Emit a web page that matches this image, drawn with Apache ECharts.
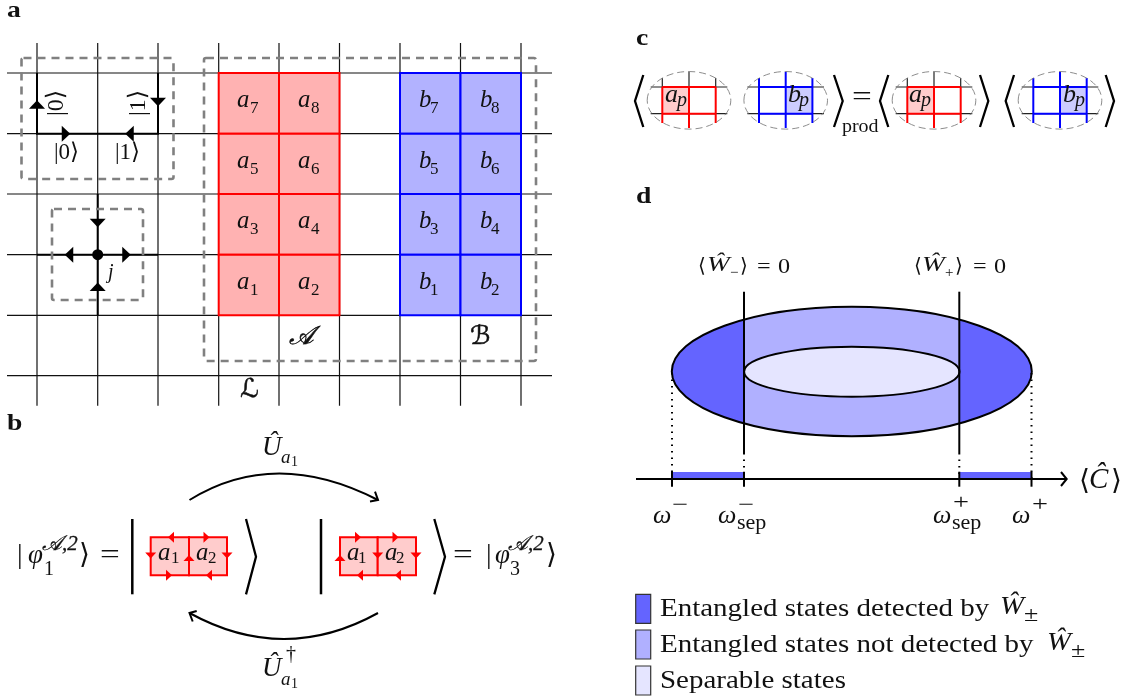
<!DOCTYPE html>
<html><head><meta charset="utf-8">
<style>html,body{margin:0;padding:0;background:#fff}#c{width:1127px;height:700px}</style>
<script src="https://cdn.jsdelivr.net/npm/echarts@6/dist/echarts.min.js"></script>
</head><body><div id="c"></div>
<script>
// ---- diagram geometry, in the reference's page units ----
const latticeX=[37,97.7,158,218.7,279,339.5,400,460.5,521];
const latticeY=[73,133.7,194,254.7,315.3,375.7];
const latticeXRange=[7,552], latticeYRange=[43,405.7];
const blockAColumns=[218.7,279,339.5], blockBColumns=[400,460.5,521];
const blockRows=[73,133.7,194,254.7,315.3];
const aLabels=[[7,8],[5,6],[3,4],[1,2]], bLabels=[[7,8],[5,6],[3,4],[1,2]];
const thickPaths=[[[37,73],[37,133.7],[158,133.7],[158,73]],[[37,254.7],[158,254.7]],[[97.7,194],[97.7,315.3]]];
const blackArrows=[[66,133.7,'r'],[129.5,133.7,'l'],[37,104.5,'u'],[158,102,'d'],[69,254.7,'l'],[126.5,254.7,'r'],[97.7,223,'d'],[97.7,286.7,'u']];
const starCentre=[[97.7,254.7]];
const dashedBoxes=[[204,58,536,361],[21.5,58,173.5,179],[52,209,143,300]];
const opCells=[[150.7,537.3,189,575.3],[189,537.3,227,575.3],[340,537.3,377.7,575.3],[377.7,537.3,416,575.3]];
const redArrows=[[171,537.3,'l'],[206.5,537.3,'r'],[169,575.3,'r'],[209,575.3,'l'],[150.7,555.5,'d'],[189,558,'u'],[227,555.5,'d'],
 [358,537.3,'r'],[395.5,537.3,'r'],[360,575.3,'l'],[398,575.3,'l'],[340,558,'u'],[377.7,555.5,'d'],[416,555.5,'d']];
const arcs=[[189.5,500,275,447,378,500],[378,613,284,665,189.5,613]];
const arcHeads=[[[375,491.7],[378,500],[370,501.5]],[[196.7,611],[189.5,613],[192.7,621.5]]];
const bigBars=[[[132.3,519],[132.3,594.3]],[[321,519],[321,594.3]]];
const rightAngles=[[246,256,556.7,37.7],[434.3,445,556.7,37.7],[834,842.7,101,26],[980,988.3,101,26],[1105.7,1114,101,26]];
const leftAngles=[[635,643.3,101,26],[880,888.3,101,26],[1005.7,1014,101,26]];
// panel c: lattice centres
const redLoupes=[689,934], blueLoupes=[785.7,1060];
const loupeY=100.3, loupeCell=26.7, loupeRows=[87,113.7], loupeReach=38.3, loupeRx=41.8, loupeRy=28.8;
const loupeTops=[78,71.7,78], loupeBottoms=[123,128,123];
// panel d
const outer={cx:851.8,cy:371.5,rx:180,ry:64.7}, inner={cx:851.8,cy:371.7,rx:107.7,ry:25};
const witnessX=[744,959.3], witnessY=[291.7,453];
const bounds=[672,744,959.3,1031.5];
const axisY=479, axisX=[636,1066.7], tickY=[471.7,486.7];
const dottedTops=[373,453,453,373];
const detectedBars=[[672,472,744,479],[959.3,472,1031.5,479]];
const axisHead=[[1061,472],[1066.7,479],[1061,486]];
const legendBoxes=[[635.7,594.3,650.7,623.3],[635.7,630,650.7,659],[635.7,666,650.7,695]];
// text, grouped by the look each group shares
const titles=[['a',7,11],['b',7,424],['c',636,39],['d',636,197]];
const scripts=[['𝒜',289,337],['ℬ',470,337],['ℒ',240,390]];
const kets=[['|0⟩',54,153],['|1⟩',115,153]];
const rotatedKets=[['|0⟩',56.5,103],['|1⟩',138.5,103]];
const indexJ=[['j',108,273]];
const opMain=[['Û',262,448],['Û',262,669],['φ',28,556],['φ',495,556]];
const opBars=[['|',17,556],['⟩',79,556],['|',486,556],['⟩',546,556]];
const opEquals=[['=',100,556],['=',453,556],['=',852,98]];
const opSupA=[['𝒜,2',42,544],['𝒜,2',508,544]];
const opIdx=[['1',44,570],['3',510,570]];
const uSubs=[['a',281,458],['a',281,680]];
const uSubNums=[['1',291,462],['1',291,684]];
const dagger=[['†',286,655]];
const smallCell=[['a',158,553],['a',196,553],['a',347,553],['a',385,553]];
const smallCellSub=[['1',171,559],['2',208,559],['1',358,559],['2',396,559]];
const loupeMain=[['a',665,95],['b',788,95],['a',909,95],['b',1063,95]];
const loupeSub=[['p',677,101],['p',799,101],['p',921,101],['p',1075,101]];
const prodLabel=[['prod',842,127]];
const witnessAngles=[['⟨',698,267],['⟩',740,267],['⟨',914,267],['⟩',955,267]];
const witnessRoman=[['=',757,267],['0',778,267],['=',973,267],['0',994,267]];
const witnessW=[['Ŵ',707,265],['Ŵ',922,265]];
const witnessSub=[['−',730,273],['+',945,273]];
const omegas=[['ω',653,516],['ω',718,516],['ω',933,516],['ω',1012,516]];
const omegaSup=[['−',672,505],['−',738,505],['+',953,503],['+',1032,505]];
const omegaSep=[['sep',737,523],['sep',952,523]];
const axisNameRoman=[['⟨',1079,482],['⟩',1111,482]];
const axisNameC=[['Ĉ',1089,480]];
const legendText=[['Entangled states detected by',660,609],['Entangled states not detected by',660,645],['Separable states',660,681]];
const legendW=[['Ŵ',1000,607],['Ŵ',1047,643]];
const legendPm=[['±',1024,616],['±',1071,652]];

// ---- helpers building library series ----
const series=[];
const serif='"Liberation Serif","DejaVu Serif","DejaVu Sans",serif';
function custom(rows,draw){
  series.push({type:'custom',coordinateSystem:'cartesian2d',clip:false,animation:false,silent:true,
    encode:{x:0,y:1},data:rows.map((r,i)=>[i,i]),
    renderItem:(p,api)=>draw(rows[p.dataIndex],api)});
}
const pts=(path,api)=>path.map(q=>api.coord(q));
function lines(paths,style){custom(paths,(path,api)=>({type:'polyline',shape:{points:pts(path,api)},style:Object.assign({fill:null,stroke:'#000',lineWidth:1.2},style)}));}
function boxes(rects,style){custom(rects,(r,api)=>{const a=api.coord([r[0],r[1]]),b=api.coord([r[2],r[3]]);
  return {type:'rect',shape:{x:a[0],y:a[1],width:b[0]-a[0],height:b[1]-a[1],r:style.r||0},style:Object.assign({},style,{r:undefined})};});}
function ovals(list,style){custom(list,(e,api)=>{const c=api.coord([e.cx,e.cy]),q=api.coord([e.cx+e.rx,e.cy+e.ry]);
  return {type:'ellipse',shape:{cx:c[0],cy:c[1],rx:q[0]-c[0],ry:q[1]-c[1]},style};});}
function tris(list,len,half,fill){custom(list,(t,api)=>{const c=api.coord([t[0],t[1]]);const d={r:[1,0],l:[-1,0],u:[0,-1],d:[0,1]}[t[2]];
  const tip=[c[0]+d[0]*len/2,c[1]+d[1]*len/2],bx=c[0]-d[0]*len/2,by=c[1]-d[1]*len/2;
  return {type:'polygon',shape:{points:[tip,[bx-d[1]*half,by-d[0]*half],[bx+d[1]*half,by+d[0]*half]]},style:{fill}};});}
function texts(list,size,opt){opt=opt||{};custom(list,(t,api)=>{const c=api.coord([t[1],t[2]]);
  const st={text:t[0],fontSize:size,fontFamily:opt.family||serif,fontStyle:opt.it?'italic':'normal',fontWeight:opt.bold?'bold':'normal',
    fill:'#111',align:opt.align||'left',verticalAlign:'middle',textAlign:opt.align||'left',textVerticalAlign:'middle'};
  if(opt.heavy){st.stroke='#111';st.lineWidth=opt.heavy;}
  return {type:'text',x:c[0],y:c[1],scaleX:opt.sx||1,rotation:opt.rot||0,style:st};});}
const angle=(r)=>[[r[0],r[2]-r[3]],[r[1],r[2]],[r[0],r[2]+r[3]]];
const angleL=(r)=>[[r[1],r[2]-r[3]],[r[0],r[2]],[r[1],r[2]+r[3]]];
const arcPoly=(e,cutX,sign)=>{const a=Math.acos((cutX-e.cx)/e.rx),out=[];
  const from=sign<0?a:-a, to=sign<0?2*Math.PI-a:a;
  for(let i=0;i<=60;i++){const t=from+(to-from)*i/60;out.push([e.cx+e.rx*Math.cos(t),e.cy+e.ry*Math.sin(t)]);}return out;};

// ---- panel a ----
lines(latticeX.map(x=>[[x,latticeYRange[0]],[x,latticeYRange[1]]]),{stroke:'#111',lineWidth:1.2});
lines(latticeY.map(y=>[[latticeXRange[0],y],[latticeXRange[1],y]]),{stroke:'#111',lineWidth:1.2});
lines(thickPaths,{lineWidth:2});
tris(blackArrows,8.5,8,'#000');
custom(starCentre,(c,api)=>{const p=api.coord(c);return {type:'circle',shape:{cx:p[0],cy:p[1],r:5.5},style:{fill:'#000'}};});
const cellsOf=(cols)=>{const o=[];for(let r=0;r<blockRows.length-1;r++)for(let c=0;c<cols.length-1;c++)o.push([cols[c],blockRows[r],cols[c+1],blockRows[r+1]]);return o;};
boxes(cellsOf(blockAColumns),{fill:'#ffb2b2',stroke:'#ff0000',lineWidth:2});
boxes(cellsOf(blockBColumns),{fill:'#b2b2ff',stroke:'#0000ff',lineWidth:2});
boxes(dashedBoxes,{fill:null,stroke:'#808080',lineWidth:2.6,lineDash:[8,6],r:2});
const cellMain=[],cellSub=[];
const cx0=[237,298],cx1=[419,480],cy=[100.5,161.5,221.5,282.5];
aLabels.forEach((row,r)=>row.forEach((n,c)=>{cellMain.push(['a',cx0[c],cy[r]]);cellSub.push([String(n),cx0[c]+13,cy[r]+8]);}));
bLabels.forEach((row,r)=>row.forEach((n,c)=>{cellMain.push(['b',cx1[c],cy[r]]);cellSub.push([String(n),cx1[c]+11,cy[r]+8]);}));
texts(cellMain,26,{it:1,sx:0.95});
texts(cellSub,17);
texts(titles,23,{bold:1,sx:1.2});
texts(scripts,26,{it:1,heavy:0.5});
texts(kets,23);
texts(rotatedKets,24,{rot:Math.PI/2,align:'center'});
texts(indexJ,20,{it:1});

// ---- panel b ----
custom(arcs,(a,api)=>{const s=api.coord([a[0],a[1]]),c=api.coord([a[2],a[3]]),e=api.coord([a[4],a[5]]);
  return {type:'bezierCurve',shape:{x1:s[0],y1:s[1],cpx1:c[0],cpy1:c[1],x2:e[0],y2:e[1]},style:{fill:null,stroke:'#000',lineWidth:2}};});
lines(arcHeads,{lineWidth:2});
lines(bigBars,{lineWidth:2.5});
lines(rightAngles.map(angle),{lineWidth:2.3});
lines(leftAngles.map(angleL),{lineWidth:2.3});
boxes(opCells,{fill:'#ffcccc',stroke:'#ff0000',lineWidth:2});
tris(redArrows,6,5.5,'#ff0000');
texts(opMain,27,{it:1});
texts(opBars,28);
texts(opEquals,27,{sx:1.3});
texts(opSupA,21,{it:1,heavy:0.3});
texts(opIdx,20);
texts(uSubs,19,{it:1});
texts(uSubNums,14);
texts(dagger,20);
texts(smallCell,26,{it:1,sx:0.95});
texts(smallCellSub,17);

// ---- panel c ----
const loupeAllX=[-1,0,1];
[...redLoupes,...blueLoupes].forEach(cx=>{
  const isRed=redLoupes.includes(cx);
  lines(loupeRows.map(y=>[[cx-loupeReach,y],[cx+loupeReach,y]]),{stroke:'#222',lineWidth:1.2});
  if(isRed) lines(loupeAllX.map((k,i)=>[[cx+k*loupeCell,loupeTops[i]],[cx+k*loupeCell,loupeRows[0]]]),{stroke:'#222',lineWidth:1.2});
  const col=isRed?'#ff0000':'#0000ff';
  boxes([isRed?[cx-loupeCell,loupeRows[0],cx,loupeRows[1]]:[cx,loupeRows[0],cx+loupeCell,loupeRows[1]]],{fill:isRed?'#ffcccc':'#ccccff',stroke:null});
  lines(loupeAllX.map((k,i)=>[[cx+k*loupeCell,isRed?loupeRows[0]:loupeTops[i]],[cx+k*loupeCell,loupeBottoms[i]]]),{stroke:col,lineWidth:2});
  lines(loupeRows.map(y=>[[cx-loupeCell,y],[cx+loupeCell,y]]),{stroke:col,lineWidth:2});
  ovals([{cx,cy:loupeY,rx:loupeRx,ry:loupeRy}],{fill:null,stroke:'#808080',lineWidth:0.9,lineDash:[7,4]});
});
texts(loupeMain,26,{it:1});
texts(loupeSub,20,{it:1});
texts(prodLabel,19,{sx:1.05});

// ---- panel d ----
ovals([outer],{fill:'#b0b0ff',stroke:null});
custom([arcPoly(outer,witnessX[0],-1),arcPoly(outer,witnessX[1],1)],(path,api)=>({type:'polygon',shape:{points:pts(path,api)},style:{fill:'#6464ff'}}));
ovals([outer],{fill:null,stroke:'#000',lineWidth:2});
ovals([inner],{fill:'#e5e5ff',stroke:'#000',lineWidth:2});
lines(witnessX.map(x=>[[x,witnessY[0]],[x,witnessY[1]]]),{lineWidth:2});
lines(bounds.map((x,i)=>[[x,dottedTops[i]],[x,axisY]]),{lineWidth:2,lineDash:[1.5,5]});
boxes(detectedBars,{fill:'#6464ff',stroke:null});
lines([[[axisX[0],axisY],[axisX[1],axisY]]],{lineWidth:2});
lines(bounds.map(x=>[[x,tickY[0]],[x,tickY[1]]]),{lineWidth:2});
lines([axisHead],{lineWidth:2});
texts(witnessAngles,20);
texts(witnessRoman,21,{sx:1.15});
texts(witnessW,21,{it:1,sx:1.3});
texts(witnessSub,15);
texts(omegas,26,{it:1});
texts(omegaSup,21,{sx:1.35});
texts(omegaSep,21,{sx:1.05});
texts(axisNameRoman,28);
texts(axisNameC,29,{it:1});
boxes(legendBoxes.slice(0,1),{fill:'#6464ff',stroke:'#333',lineWidth:1.2});
boxes(legendBoxes.slice(1,2),{fill:'#b0b0ff',stroke:'#333',lineWidth:1.2});
boxes(legendBoxes.slice(2,3),{fill:'#e5e5ff',stroke:'#333',lineWidth:1.2});
texts(legendText,26,{sx:1.115});
texts(legendW,25,{it:1,sx:1.15});
texts(legendPm,20,{sx:1.3});

const chart=echarts.init(document.getElementById('c'),null,{renderer:'canvas'});
chart.setOption({animation:false,backgroundColor:'#fff',
  grid:{left:0,right:0,top:0,bottom:0},
  xAxis:{type:'value',min:0,max:1127,show:false},
  yAxis:{type:'value',min:0,max:700,inverse:true,show:false},
  tooltip:{show:false},series});
</script></body></html>
